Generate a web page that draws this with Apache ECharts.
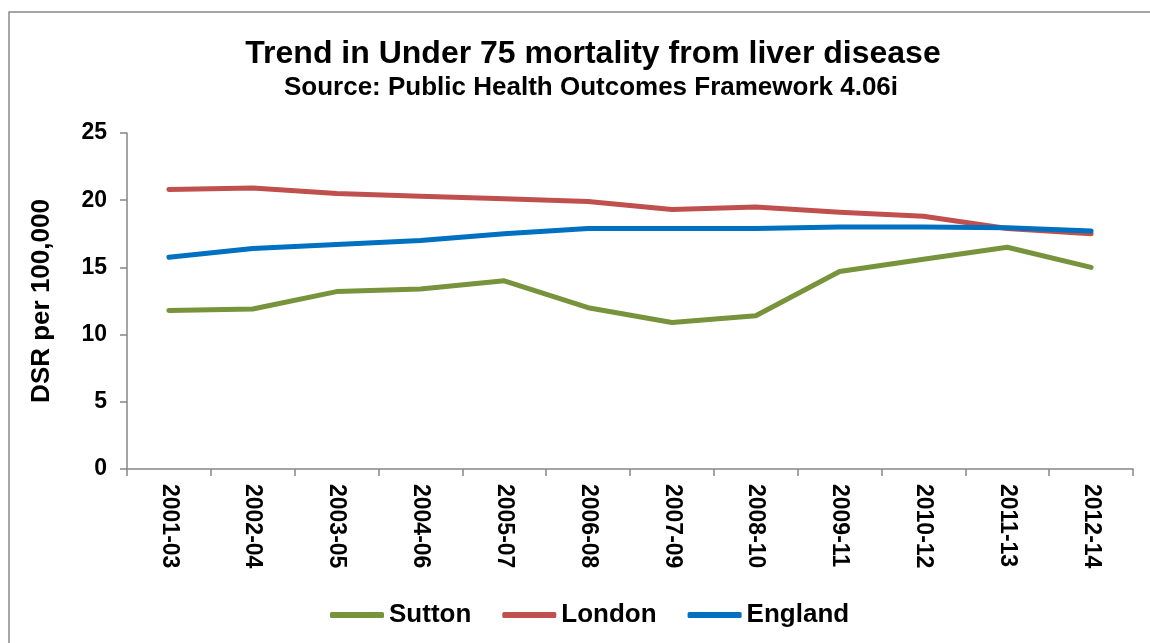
<!DOCTYPE html>
<html>
<head>
<meta charset="utf-8">
<script src="https://cdn.jsdelivr.net/npm/echarts@6/dist/echarts.min.js"></script>
<style>
  html, body { margin: 0; padding: 0; background: #fff; }
  #main { width: 1150px; height: 643px; }
</style>
</head>
<body>
<div id="main"></div>
<script>
// data
var periods = ['2001-03', '2002-04', '2003-05', '2004-06', '2005-07', '2006-08',
               '2007-09', '2008-10', '2009-11', '2010-12', '2011-13', '2012-14'];
var sutton  = [11.8, 11.9, 13.2, 13.4, 14.0, 12.0, 10.9, 11.4, 14.7, 15.6, 16.5, 15.0];
var london  = [20.8, 20.9, 20.5, 20.3, 20.1, 19.9, 19.3, 19.5, 19.1, 18.8, 17.9, 17.5];
var england = [15.75, 16.4, 16.7, 17.0, 17.5, 17.9, 17.9, 17.9, 18.0, 18.0, 17.95, 17.7];
var yTicks = [0, 5, 10, 15, 20, 25];

var font = 'Liberation Sans, Arial, sans-serif';
var axisGrey = '#868686';

function lineSeries(name, data, color) {
    return {
        name: name,
        type: 'line',
        data: data,
        symbol: 'none',
        lineStyle: { color: color, width: 5, cap: 'round', join: 'round' },
        itemStyle: { color: color }
    };
}

var chart = echarts.init(document.getElementById('main'), null, { renderer: 'canvas' });
var option = {
    animation: false,
    backgroundColor: '#fff',
    title: [{
        text: 'Trend in Under 75 mortality from liver disease',
        left: 588, top: 33, textAlign: 'center',
        textStyle: { fontFamily: font, fontSize: 32, fontWeight: 'bold', color: '#000' }
    }, {
        text: 'Source: Public Health Outcomes Framework 4.06i',
        left: 586, top: 70, textAlign: 'center',
        textStyle: { fontFamily: font, fontSize: 26, fontWeight: 'bold', color: '#000' }
    }],
    // chart border (runs off the right and bottom edges)
    graphic: [{
        type: 'polyline',
        shape: { points: [[9, 643], [9, 12], [1150, 12]] },
        style: { stroke: '#898989', lineWidth: 1.5, fill: null }
    }],
    legend: {
        data: ['Sutton', 'London', 'England'],
        left: 325, top: 597,
        icon: 'roundRect',
        itemWidth: 54, itemHeight: 6, itemGap: 31,
        textStyle: { fontFamily: font, fontSize: 26, fontWeight: 'bold', color: '#000' }
    },
    grid: { left: 127, right: 17, top: 133, bottom: 174 },
    xAxis: {
        type: 'category',
        data: periods,
        boundaryGap: true,
        axisLine: { lineStyle: { color: axisGrey, width: 1.5 } },
        axisTick: { show: true, length: 7, lineStyle: { color: axisGrey, width: 1.5 } },
        axisLabel: {
            rotate: -90, margin: 15, interval: 0,
            fontFamily: font, fontSize: 23, fontWeight: 'bold', color: '#000'
        }
    },
    yAxis: {
        type: 'value',
        min: yTicks[0], max: yTicks[yTicks.length - 1], interval: 5,
        name: 'DSR per 100,000',
        nameLocation: 'middle', nameGap: 72, nameRotate: 90,
        nameTextStyle: { fontFamily: font, fontSize: 26, fontWeight: 'bold', color: '#000' },
        axisLine: { show: true, lineStyle: { color: axisGrey, width: 1.5 } },
        axisTick: { show: true, length: 7, lineStyle: { color: axisGrey, width: 1.5 } },
        splitLine: { show: false },
        axisLabel: { margin: 20, fontFamily: font, fontSize: 23, fontWeight: 'bold', color: '#000' }
    },
    series: [
        lineSeries('Sutton', sutton, '#77933C'),
        lineSeries('London', london, '#C0504D'),
        lineSeries('England', england, '#0070C0')
    ]
};
chart.setOption(option);
</script>
</body>
</html>
